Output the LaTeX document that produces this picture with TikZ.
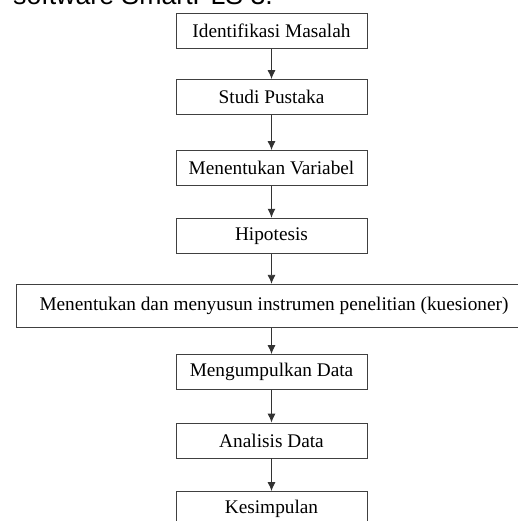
\documentclass[tikz,border=0pt]{standalone}
\usepackage{fontspec}
\setmainfont{Liberation Serif}
\newfontfamily\headfont{Liberation Sans}
\usepackage{tikz}
\usetikzlibrary{arrows.meta}

\begin{document}
\begin{tikzpicture}[x=1pt, y=-1pt,
        stepbox/.style={draw=black!75, line width=0.9pt, minimum width=191pt, minimum height=35pt, inner sep=0pt, font=\fontsize{19.3}{22}\selectfont},
        flow/.style={draw=black!80, line width=0.9pt, -{Latex[length=9pt, width=8pt]}}]
        \clip (0, 0) rectangle (518, 521);

        \node[anchor=base west, inner sep=0pt, font=\headfont\fontsize{26.7}{30}\selectfont] (caption) at (13, 5) {software SmartPLS 3.};

        \node[stepbox] (masalah) at (271.5, 31) {Identifikasi Masalah};
        \node[stepbox] (pustaka) at (271.5, 97) {Studi Pustaka};
        \node[stepbox] (variabel) at (271.5, 168) {Menentukan Variabel};
        \node[stepbox] (hipotesis) at (271.5, 235.7) {Hipotesis};
        \node[stepbox, minimum width=516pt, minimum height=43.5pt] (instrumen) at (274, 306) {Menentukan dan menyusun instrumen penelitian (kuesioner)};
        \node[stepbox] (data) at (271.5, 372) {Mengumpulkan Data};
        \node[stepbox] (analisis) at (271.5, 440.5) {Analisis Data};
        \node[stepbox] (kesimpulan) at (271.5, 509) {Kesimpulan};

        \draw[flow] (masalah) to (pustaka);
        \draw[flow] (pustaka) to (variabel);
        \draw[flow] (variabel) to (hipotesis);
        \draw[flow] (hipotesis.south) to (instrumen.north -| hipotesis.south);
        \draw[flow] (instrumen.south -| data.north) to (data.north);
        \draw[flow] (data) to (analisis);
        \draw[flow] (analisis) to (kesimpulan);
    \end{tikzpicture}
\end{document}
